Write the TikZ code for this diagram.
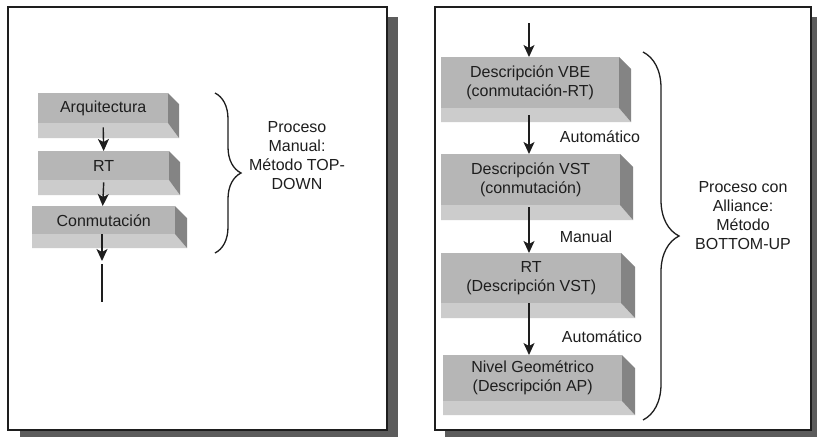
\documentclass[tikz,border=0pt]{standalone}
\usepackage{fontspec}
\setmainfont{Liberation Sans}
\usetikzlibrary{arrows.meta,decorations.pathreplacing,calc}
\definecolor{front}{RGB}{182,182,182}
\definecolor{side}{RGB}{132,132,132}
\definecolor{under}{RGB}{204,204,204}
\definecolor{shadowc}{RGB}{92,92,92}
\definecolor{ink}{RGB}{30,30,30}
% slab: name, x1, x2, ytop, ymid, ybottom, depth, text
\newcommand{\slab}[8]{%
  \fill[under] (#2,#5) -- (#3,#5) -- ({#3+#7},#6) -- (#2,#6) -- cycle;
  \fill[side] (#3,#4) -- ({#3+#7},{#4+#7}) -- ({#3+#7},#6) -- (#3,#5) -- cycle;
  \node[slabface, minimum width={(#3-#2)*1pt}, minimum height={(#5-#4)*1pt}] (#1) at (#2,#4) {#8};
}
\begin{document}
\begin{tikzpicture}[x=1pt,y=-1pt,
  font=\fontsize{16}{19}\selectfont, text=ink,
  slabface/.style={fill=front, draw=none, anchor=north west, inner sep=0pt, align=center},
  arr/.style={draw=ink, line width=1.4pt, -{Stealth[length=12pt,width=11pt,inset=3pt]}},
  plain/.style={draw=ink, line width=1.4pt},
  frame/.style={draw=ink, line width=1.4pt, fill=white},
  shadowbox/.style={fill=shadowc, draw=none},
  brc/.style={draw=ink, line width=1.3pt, decorate, decoration={brace, amplitude=#1}},
  lbl/.style={align=center, inner sep=0pt}]
\useasboundingbox (0,0) rectangle (817,437);
\fill[white] (0,0) rectangle (817,437);

% ---------- left panel ----------
\fill[shadowbox] (387,17) rectangle (398,437);
\fill[shadowbox] (20,430) rectangle (398,437);
\draw[frame] (8,7) rectangle (387,430);

\slab{A}{38}{168}{93}{123}{138}{11}{Arquitectura}
\slab{R}{38}{169}{151}{180}{195}{11}{RT}
\slab{C}{32}{175}{206}{234}{248}{12}{Conmutación}

\draw[arr] ([yshift=-4pt]A.south) -- (R.north);
\draw[arr] ([yshift=-2pt]R.south) -- ([xshift=-1pt]C.north);
\coordinate (c1) at (102,261);
\coordinate (c2) at (102,264);
\coordinate (c3) at (102,302);
\draw[arr] (C.south -| c1) -- (c1);
\draw[plain] (c2) -- (c3);

\draw[brc=26pt] (215,93) -- (215,253);
\node[lbl] (tl) at (297,156) {Proceso\\Manual:\\Método TOP-\\DOWN};

% ---------- right panel ----------
\fill[shadowbox] (811,17) rectangle (817,437);
\fill[shadowbox] (445,430) rectangle (817,437);
\draw[frame] (435,7) rectangle (811,430);

\slab{B1}{441}{619}{57}{108}{122}{12}{Descripción VBE\\(conmutación-RT)}
\slab{B2}{441}{620}{154}{205}{220}{13}{Descripción VST\\(conmutación)}
\slab{B3}{441}{621}{253}{303}{318}{14}{RT\\(Descripción VST)}
\slab{B4}{443}{622}{355}{401}{415}{13}{Nivel Geométrico\\(Descripción AP)}

\coordinate (t0) at (529,23);
\draw[arr] (t0) -- (t0 |- B1.north);
\draw[arr] ([yshift=-7pt]B1.south -| t0) -- (t0 |- B2.north);
\draw[arr] ([yshift=-2pt]B2.south -| t0) -- (t0 |- B3.north);
\draw[arr] (B3.south -| t0) -- (t0 |- B4.north);

\node[lbl] (l1) at (600,137) {Automático};
\node[lbl] (l2) at (586,237) {Manual};
\node[lbl] (l3) at (602,337) {Automático};

\draw[brc=36pt] (643,52) -- (643,420);
\node[lbl] (tr) at (743,216) {Proceso con\\Alliance:\\Método\\BOTTOM-UP};
\end{tikzpicture}
\end{document}
